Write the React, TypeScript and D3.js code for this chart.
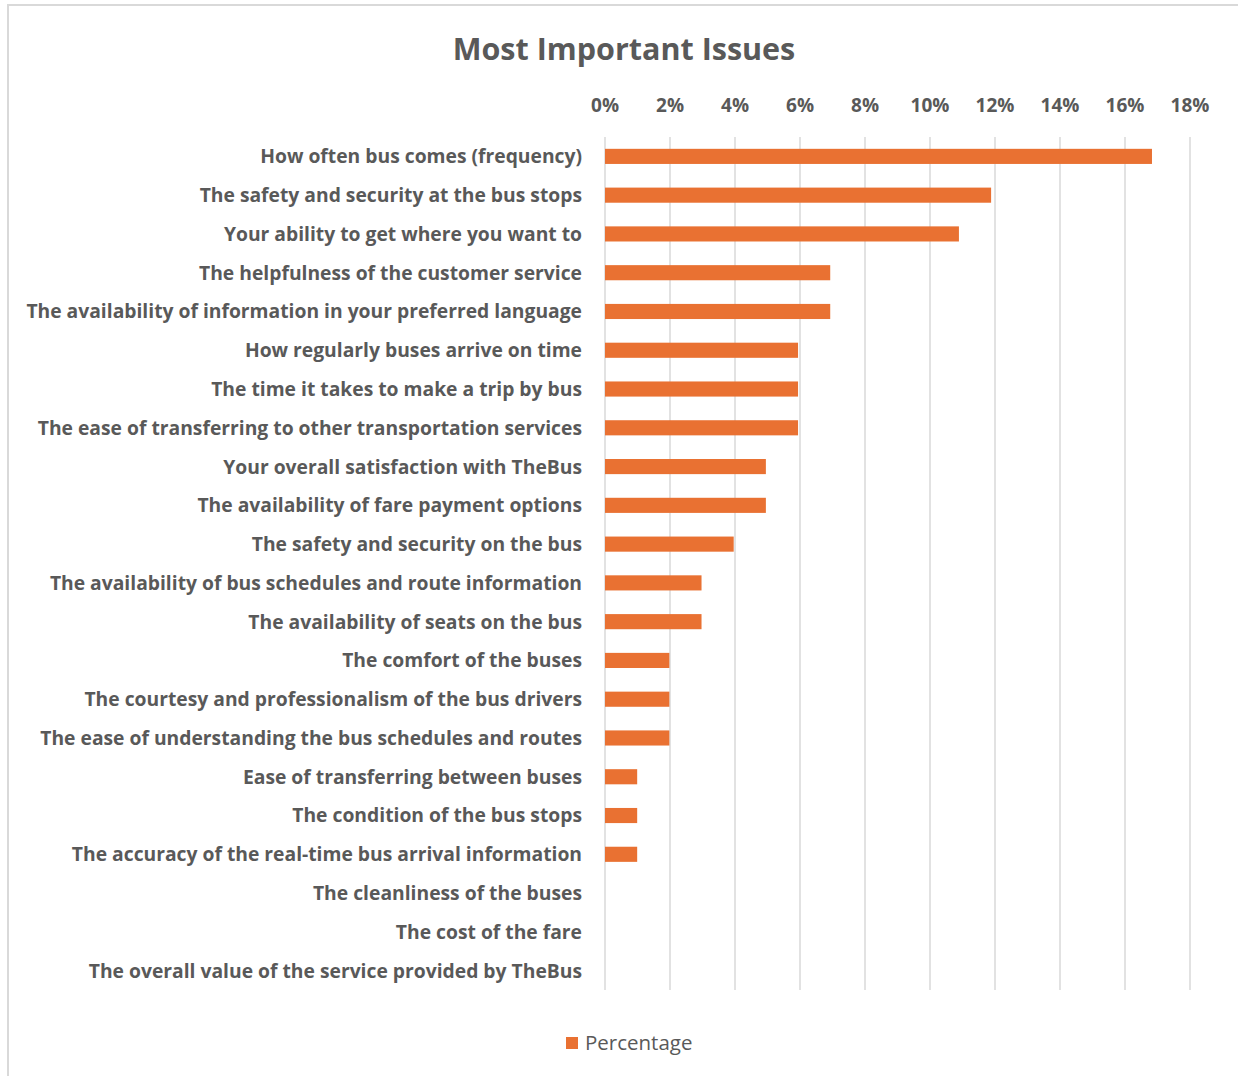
import React from "react";
import * as d3 from "d3";

const categories = [
  "How often bus comes (frequency)",
  "The safety and security at the bus stops",
  "Your ability to get where you want to",
  "The helpfulness of the customer service",
  "The availability of information in your preferred language",
  "How regularly buses arrive on time",
  "The time it takes to make a trip by bus",
  "The ease of transferring to other transportation services",
  "Your overall satisfaction with TheBus",
  "The availability of fare payment options",
  "The safety and security on the bus",
  "The availability of bus schedules and route information",
  "The availability of seats on the bus",
  "The comfort of the buses",
  "The courtesy and professionalism of the bus drivers",
  "The ease of understanding the bus schedules and routes",
  "Ease of transferring between buses",
  "The condition of the bus stops",
  "The accuracy of the real-time bus arrival information",
  "The cleanliness of the buses",
  "The cost of the fare",
  "The overall value of the service provided by TheBus",
];

const percentages = [
  16.83, 11.88, 10.89, 6.93, 6.93, 5.94, 5.94, 5.94, 4.95, 4.95, 3.96, 2.97,
  2.97, 1.98, 1.98, 1.98, 0.99, 0.99, 0.99, 0, 0, 0,
];

const tickValues = [0, 2, 4, 6, 8, 10, 12, 14, 16, 18];

const seriesName = "Percentage";

const W = 1238;
const H = 1076;
const FONT = "'Open Sans', Lato, sans-serif";
const TEXT = "#595959";
const BAR = "#E97132";
const GRID = "#d9d9d9";

export default function App() {
  const x = d3.scaleLinear().domain([0, 18]).range([605, 1190]);
  const y = d3
    .scaleBand<string>()
    .domain(categories)
    .range([137, 990])
    .paddingInner(0.61)
    .paddingOuter(0.305);
  const bw = y.bandwidth();

  return (
    <svg
      width={W}
      height={H}
      style={{ position: "absolute", left: 0, top: 0, background: "#fff" }}
    >
      <rect x={0} y={0} width={W} height={H} fill="#fff" />
      <path
        d={`M8,${H} L8,5 L${W},5`}
        fill="none"
        stroke={GRID}
        strokeWidth={2}
      />
      <text
        x={624}
        y={60}
        textAnchor="middle"
        fontFamily={FONT}
        fontWeight={700}
        fontSize={30.5}
        fill={TEXT}
      >
        Most Important Issues
      </text>
      {tickValues.map((t) => (
        <g key={t}>
          <line
            x1={x(t)}
            x2={x(t)}
            y1={137}
            y2={990}
            stroke={GRID}
            strokeWidth={1.5}
          />
          <text
            x={x(t)}
            y={112}
            textAnchor="middle"
            fontFamily={FONT}
            fontWeight={700}
            fontSize={19}
            fill={TEXT}
          >
            {t}%
          </text>
        </g>
      ))}
      {categories.map((c, i) => (
        <g key={c}>
          {percentages[i] > 0 && (
            <rect
              x={x(0)}
              y={y(c)}
              width={x(percentages[i]) - x(0)}
              height={bw}
              fill={BAR}
            />
          )}
          <text
            x={582}
            y={(y(c) as number) + bw / 2}
            dy="0.36em"
            textAnchor="end"
            fontFamily={FONT}
            fontWeight={700}
            fontSize={19.3}
            fill={TEXT}
          >
            {c}
          </text>
        </g>
      ))}
      <rect x={566} y={1037} width={12} height={12} fill={BAR} />
      <text x={585} y={1050} fontFamily={FONT} fontSize={20.5} fill={TEXT}>
        {seriesName}
      </text>
    </svg>
  );
}
